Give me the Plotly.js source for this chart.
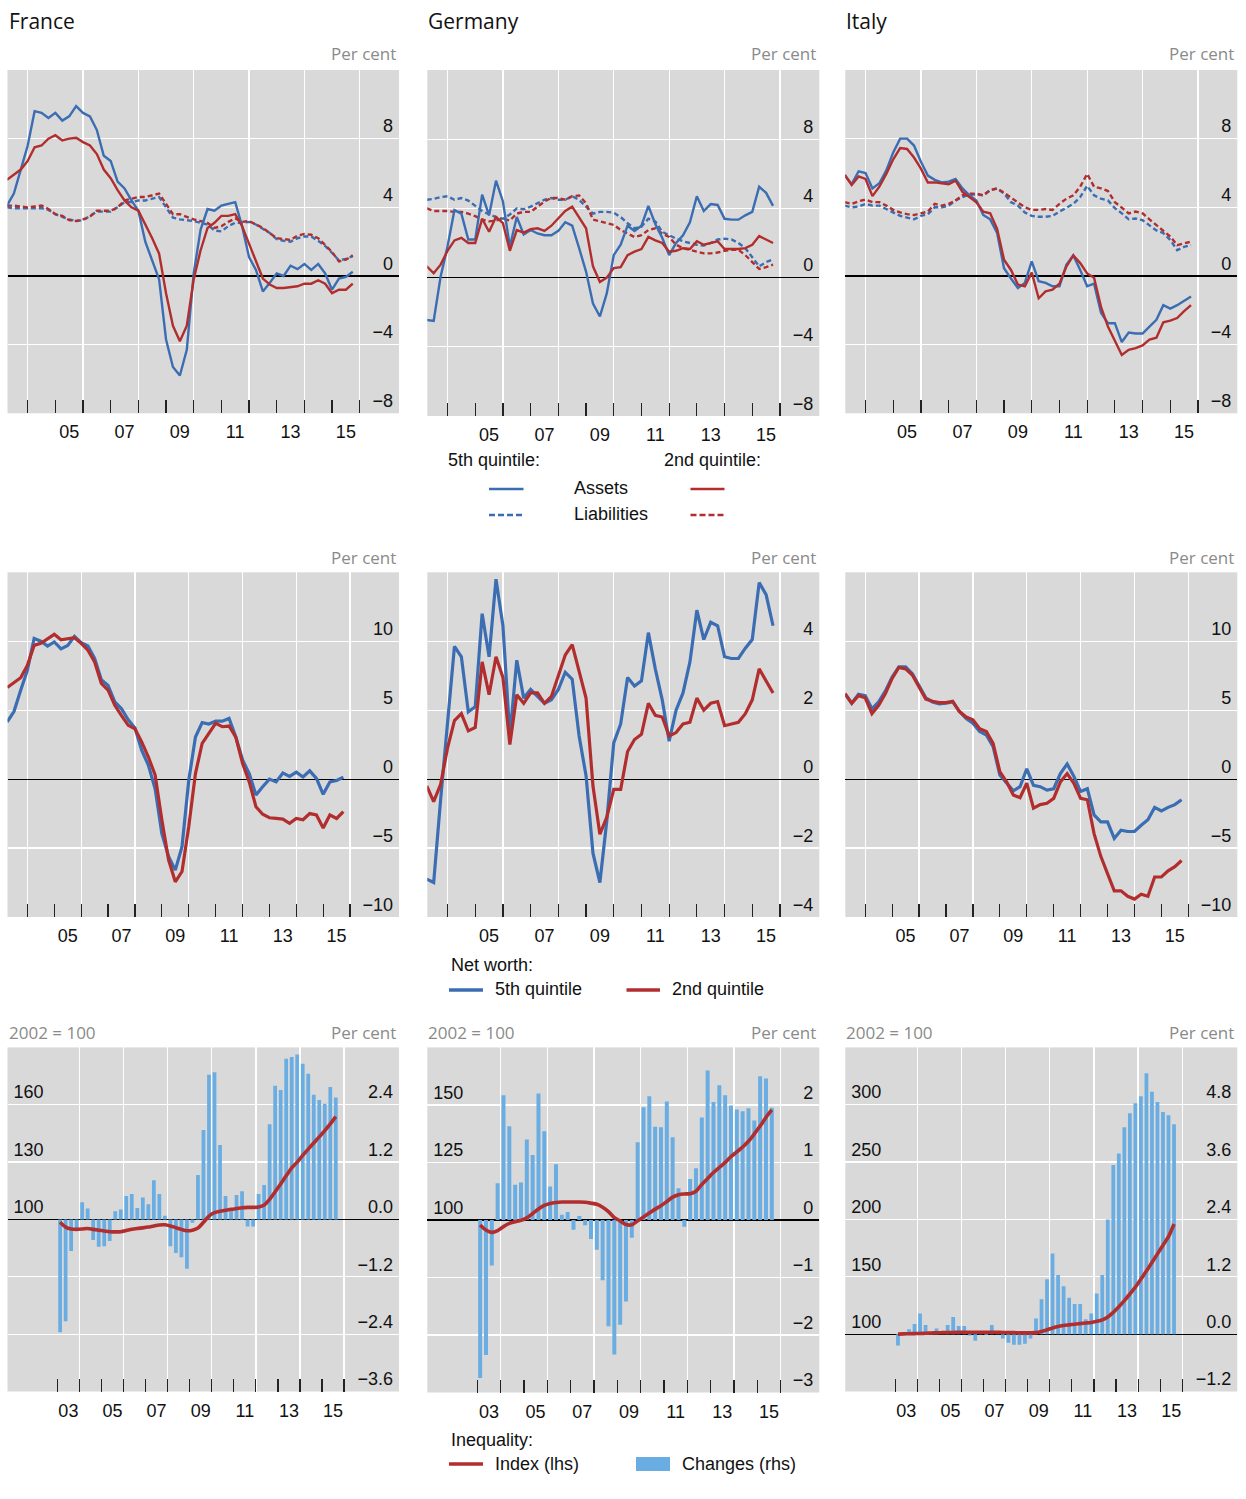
<!DOCTYPE html>
<html><head><meta charset="utf-8">
<script src="https://cdn.plot.ly/plotly-3.0.1.min.js"></script>
<style>html,body{margin:0;padding:0;background:#fff}#chart{width:1246px;height:1499px}</style>
</head><body><div id="chart"></div>
<script>
// ---------------- DATA ----------------
const countries = ['France', 'Germany', 'Italy'];
// quarterly observations for the top two rows
const quartersA = ('2003Q2 2003Q3 2003Q4 2004Q1 2004Q2 2004Q3 2004Q4 2005Q1 2005Q2 2005Q3 2005Q4 ' +
  '2006Q1 2006Q2 2006Q3 2006Q4 2007Q1 2007Q2 2007Q3 2007Q4 2008Q1 2008Q2 2008Q3 2008Q4 ' +
  '2009Q1 2009Q2 2009Q3 2009Q4 2010Q1 2010Q2 2010Q3 2010Q4 2011Q1 2011Q2 2011Q3 2011Q4 ' +
  '2012Q1 2012Q2 2012Q3 2012Q4 2013Q1 2013Q2 2013Q3 2013Q4 2014Q1 2014Q2 2014Q3 2014Q4 ' +
  '2015Q1 2015Q2 2015Q3 2015Q4').split(' ');
// quarterly observations for the inequality row
const quartersB = ('2003Q1 2003Q2 2003Q3 2003Q4 2004Q1 2004Q2 2004Q3 2004Q4 2005Q1 2005Q2 2005Q3 2005Q4 ' +
  '2006Q1 2006Q2 2006Q3 2006Q4 2007Q1 2007Q2 2007Q3 2007Q4 2008Q1 2008Q2 2008Q3 2008Q4 ' +
  '2009Q1 2009Q2 2009Q3 2009Q4 2010Q1 2010Q2 2010Q3 2010Q4 2011Q1 2011Q2 2011Q3 2011Q4 ' +
  '2012Q1 2012Q2 2012Q3 2012Q4 2013Q1 2013Q2 2013Q3 2013Q4 2014Q1 2014Q2 2014Q3 2014Q4 ' +
  '2015Q1 2015Q2 2015Q3').split(' ');

// Row 1: assets / liabilities growth, per cent
const frAssets5 = [4.1,4.8,6.2,7.6,9.6,9.5,9.2,9.5,9.05,9.3,9.9,9.5,9.3,8.5,7.0,6.7,5.5,5.1,4.4,3.8,2.0,0.9,-0.2,-3.7,-5.3,-5.8,-4.3,0.15,2.7,3.9,3.8,4.1,4.2,4.3,2.9,1.1,0.35,-0.9,-0.4,0.15,0,0.6,0.4,0.7,0.35,0.7,0.15,-0.8,-0.15,-0.05,0.25];
const frAssets2 = [5.6,5.9,6.2,6.7,7.5,7.6,8.0,8.2,7.9,8.0,8.05,7.8,7.6,7.1,6.2,5.7,5.0,4.4,4.0,3.8,3.0,2.2,1.3,-1.0,-2.9,-3.8,-2.9,-0.2,1.5,2.8,3.1,3.5,3.5,3.6,2.9,1.9,0.9,-0.15,-0.5,-0.7,-0.7,-0.65,-0.6,-0.45,-0.45,-0.25,-0.45,-1.0,-0.8,-0.8,-0.45];
const frLiab5 = [4.0,3.95,3.95,3.95,3.95,3.95,3.85,3.6,3.45,3.3,3.2,3.25,3.5,3.75,3.75,3.75,4.0,4.3,4.3,4.4,4.4,4.5,4.6,4.0,3.4,3.3,3.25,3.2,3.1,3.0,2.65,2.6,2.9,3.1,3.1,3.15,3.0,2.75,2.5,2.15,2.05,2.0,2.2,2.3,2.3,2.05,1.75,1.35,0.9,1.0,1.15];
const frLiab2 = [4.1,4.1,4.05,4.0,4.05,4.1,3.9,3.6,3.5,3.25,3.2,3.3,3.45,3.8,3.8,3.8,4.0,4.4,4.5,4.6,4.6,4.7,4.8,4.2,3.6,3.6,3.45,3.3,3.2,3.1,2.8,2.9,3.15,3.35,3.15,3.2,3.0,2.8,2.5,2.2,2.15,2.1,2.35,2.45,2.4,2.2,1.8,1.4,0.85,0.95,1.2];
const deAssets5 = [-2.45,-2.5,0.05,1.8,3.9,3.7,2.2,2.2,4.8,3.6,5.6,4.4,1.8,3.5,2.5,2.75,2.55,2.45,2.45,2.7,3.2,3.0,1.7,0.35,-1.5,-2.25,-0.9,1.3,1.9,3.0,2.7,3.0,4.15,3.1,2.3,1.3,2.0,2.45,3.2,4.7,3.85,4.25,4.2,3.4,3.35,3.35,3.6,3.8,5.25,4.9,4.15];
const deAssets2 = [0.65,0.25,0.75,1.55,2.15,2.3,2.0,2.0,3.4,2.65,3.5,3.15,1.55,2.75,2.6,2.8,2.85,2.7,3.0,3.4,3.85,4.1,3.5,2.85,0.65,-0.25,0.0,0.55,0.6,1.3,1.5,1.65,2.35,2.15,2.0,1.5,1.55,1.7,1.65,2.1,1.9,2.0,2.1,1.65,1.65,1.65,1.7,1.9,2.4,2.2,2.0];
const deLiab5 = [4.5,4.55,4.65,4.7,4.5,4.6,4.45,4.15,3.85,3.65,3.5,3.4,3.65,4.0,3.95,4.1,4.3,4.5,4.6,4.5,4.5,4.7,4.5,4.1,3.7,3.8,3.8,3.75,3.5,3.15,2.85,2.95,3.4,3.25,2.65,2.45,2.25,2.1,2.0,1.9,1.85,2.0,2.2,2.25,2.2,2.0,1.7,1.2,0.65,0.9,1.05];
const deLiab2 = [4.0,3.85,3.85,3.85,3.8,3.8,3.7,3.55,3.35,3.25,3.3,3.4,3.3,3.7,3.8,3.8,4.1,4.4,4.6,4.6,4.5,4.7,4.75,4.3,3.35,3.25,3.15,3.05,2.75,2.55,2.35,2.45,2.75,2.85,2.55,2.35,1.9,1.7,1.6,1.5,1.4,1.4,1.45,1.55,1.6,1.6,1.3,0.9,0.5,0.6,0.75];
const itAssets5 = [5.85,5.35,6.1,6.0,5.1,5.4,6.15,7.2,8.0,8.0,7.6,6.65,5.85,5.6,5.45,5.5,5.65,5.1,4.7,4.4,3.55,3.3,2.5,0.45,-0.15,-0.7,-0.4,0.85,-0.3,-0.4,-0.6,-0.6,0.65,1.2,0.35,-0.6,-0.45,-2.15,-2.75,-2.75,-3.85,-3.3,-3.35,-3.35,-2.95,-2.55,-1.7,-1.9,-1.7,-1.45,-1.2];
const itAssets2 = [5.9,5.3,5.8,5.65,4.65,5.2,5.95,6.8,7.45,7.4,6.9,6.25,5.45,5.45,5.4,5.35,5.55,4.9,4.6,4.3,3.75,3.65,2.75,0.95,0.35,-0.5,-0.6,0.2,-1.3,-0.9,-0.8,-0.45,0.55,1.2,0.75,0.15,-0.1,-1.8,-2.95,-3.8,-4.6,-4.3,-4.2,-4.05,-3.7,-3.6,-2.7,-2.6,-2.45,-2.05,-1.7];
const itLiab5 = [4.1,4.0,4.05,4.2,4.1,4.1,3.9,3.7,3.5,3.4,3.3,3.5,3.6,4.0,4.0,4.1,4.4,4.6,4.75,4.75,4.7,5.0,5.1,4.8,4.3,4.1,3.7,3.5,3.45,3.45,3.5,3.75,4.0,4.2,4.6,5.25,4.7,4.5,4.4,3.95,3.65,3.3,3.35,3.25,2.95,2.65,2.5,2.1,1.5,1.7,1.8];
const itLiab2 = [4.3,4.2,4.35,4.45,4.3,4.3,4.1,3.85,3.7,3.6,3.55,3.65,3.75,4.2,4.1,4.2,4.4,4.7,4.8,4.8,4.7,5.0,5.1,4.85,4.55,4.3,4.0,3.85,3.85,3.9,3.85,4.2,4.5,4.7,5.2,5.95,5.2,5.1,4.95,4.3,3.95,3.65,3.75,3.65,3.3,2.95,2.65,2.3,1.8,1.9,2.0];

// Row 2: net worth growth, per cent
const frNW5 = [4.15,4.9,6.45,7.9,10.2,10.0,9.65,9.95,9.45,9.7,10.35,9.9,9.65,8.75,7.2,6.8,5.6,5.1,4.3,3.7,2.1,1.0,-0.7,-3.95,-5.6,-6.6,-4.9,-0.1,3.05,4.1,4.0,4.2,4.2,4.4,3.05,1.4,0.4,-1.15,-0.55,0.0,-0.2,0.45,0.2,0.5,0.15,0.6,0.05,-1.1,-0.2,-0.1,0.15];
const frNW2 = [6.65,7.0,7.35,8.25,9.7,9.85,10.2,10.5,10.1,10.2,10.25,9.85,9.35,8.5,6.95,6.45,5.35,4.6,3.9,3.65,2.7,1.6,0.3,-2.95,-5.85,-7.45,-6.7,-3.45,0.4,2.6,3.35,4.05,3.8,3.85,3.05,1.15,-0.2,-2.0,-2.55,-2.8,-2.85,-2.9,-3.2,-2.85,-2.95,-2.5,-2.6,-3.55,-2.6,-2.85,-2.35];
const deNW5 = [-2.9,-3.0,-0.6,1.7,3.85,3.55,1.95,2.1,4.8,3.55,5.8,4.45,1.25,3.45,2.35,2.6,2.4,2.2,2.3,2.6,3.1,2.9,1.25,0.1,-2.15,-3.0,-1.2,1.05,1.6,2.95,2.7,2.85,4.25,3.2,2.3,1.1,2.0,2.5,3.4,4.9,4.05,4.55,4.45,3.55,3.5,3.5,3.8,4.05,5.7,5.35,4.45];
const deNW2 = [-0.2,-0.65,-0.15,0.9,1.7,1.9,1.4,1.5,3.4,2.45,3.55,2.95,1.0,2.45,2.2,2.5,2.5,2.2,2.4,3.0,3.6,3.9,3.15,2.35,-0.2,-1.6,-1.1,-0.3,-0.3,0.8,1.15,1.3,2.2,1.85,1.8,1.25,1.35,1.6,1.65,2.35,2.0,2.2,2.25,1.55,1.6,1.65,1.9,2.3,3.2,2.85,2.5];
const itNW5 = [6.2,5.5,6.15,6.05,5.1,5.6,6.4,7.4,8.15,8.15,7.65,6.8,5.9,5.6,5.45,5.5,5.6,4.9,4.4,4.05,3.45,3.2,2.35,0.3,-0.25,-0.85,-0.55,0.75,-0.45,-0.55,-0.8,-0.7,0.4,1.1,0.2,-0.9,-0.7,-2.6,-3.1,-3.1,-4.3,-3.7,-3.8,-3.8,-3.35,-2.95,-2.05,-2.3,-2.05,-1.85,-1.5];
const itNW2 = [6.2,5.5,6.05,5.9,4.75,5.35,6.2,7.3,8.1,8.0,7.55,6.7,5.8,5.65,5.55,5.55,5.65,4.9,4.5,4.3,3.65,3.45,2.6,0.55,-0.2,-1.15,-1.35,-0.3,-2.1,-1.85,-1.75,-1.4,-0.2,0.4,-0.3,-1.4,-1.5,-3.95,-5.6,-6.85,-8.1,-8.1,-8.5,-8.7,-8.35,-8.5,-7.1,-7.1,-6.65,-6.35,-5.9];

// Row 3: inequality index (2002 = 100, lhs) and changes (per cent, rhs)
const frIndex = [98.5,96.0,95.0,94.8,95.0,95.3,94.8,94.4,94.0,93.6,93.5,93.6,94.2,94.9,95.3,95.6,96.0,96.6,97.1,97.2,96.6,95.7,94.8,94.1,94.4,95.5,98.5,101.8,103.6,104.3,104.8,105.3,105.7,106.1,106.3,106.3,106.5,107.5,110.5,114.5,118.5,122.8,127.0,130.0,133.5,136.8,140.0,143.2,146.5,150.0,153.8];
const frChange = [-2.36,-2.13,-0.66,-0.22,0.36,0.23,-0.43,-0.57,-0.56,-0.45,0.17,0.21,0.49,0.53,0.24,0.46,0.32,0.82,0.53,0.08,-0.56,-0.70,-0.79,-1.03,-0.07,0.93,1.87,3.03,3.08,1.56,0.49,0.20,0.51,0.59,-0.15,-0.15,0.53,0.72,1.99,2.80,2.71,3.36,3.40,3.45,3.26,3.05,2.61,2.50,2.42,2.77,2.55];
const deIndex = [97.8,95.6,94.6,95.4,97.1,98.5,99.2,99.8,100.9,102.8,104.8,106.3,107.2,107.6,107.8,107.8,107.8,107.8,107.7,107.3,106.8,105.5,103.6,101.0,99.6,98.0,97.9,99.6,101.3,103.0,104.7,106.2,108.0,109.9,111.0,111.3,111.4,112.5,115.4,118.0,120.6,122.8,125.0,127.5,129.6,131.7,134.2,137.4,140.8,144.6,147.8];
const deChange = [-2.75,-2.35,-0.79,0.64,2.17,1.63,0.61,0.65,1.40,1.13,2.20,1.54,0.58,0.97,0.09,0.14,-0.17,0.07,-0.09,-0.33,-0.52,-1.05,-1.85,-2.34,-1.82,-1.42,-0.31,1.35,1.96,2.15,1.62,1.61,2.06,1.44,0.55,-0.12,0.71,0.90,1.78,2.60,2.05,2.34,2.17,1.99,1.92,1.89,1.94,1.73,2.50,2.46,1.95];
const itIndex = [100.0,100.2,100.4,100.5,100.6,100.8,101.0,101.2,101.3,101.4,101.5,101.6,101.7,101.7,101.7,101.7,101.7,101.7,101.6,101.5,101.4,101.3,101.2,101.1,101.1,101.3,102.3,103.8,105.4,106.7,107.5,108.1,108.7,109.2,109.7,110.2,111.2,112.5,115.0,119.0,123.8,129.2,135.0,141.0,148.0,155.0,162.5,170.0,177.5,185.0,196.0];
const itChange = [-0.24,0.0,0.10,0.21,0.43,0.19,0.05,0.12,0.0,0.19,0.36,0.17,0.17,-0.03,-0.14,0.05,-0.02,0.19,0.05,-0.09,-0.18,-0.22,-0.22,-0.20,-0.09,0.33,0.73,1.15,1.69,1.24,1.00,0.76,0.63,0.63,0.31,0.43,0.85,1.24,2.40,3.54,3.78,4.33,4.62,4.83,4.98,5.46,5.07,4.86,4.65,4.58,4.39];

// Axis tick values / labels
const gridYears = [2004, 2006, 2008, 2010, 2012, 2014, 2016];
const labelYearsTop = [2005.5, 2007.5, 2009.5, 2011.5, 2013.5, 2015.5];
const yearLabelsTop = ['05', '07', '09', '11', '13', '15'];
const labelYearsBottom = [2003.5, 2005.5, 2007.5, 2009.5, 2011.5, 2013.5, 2015.5];
const yearLabelsBottom = ['03', '05', '07', '09', '11', '13', '15'];
const minorYearsTop = [2005, 2007, 2009, 2011, 2013, 2015];
const minorYearsBottom = [2003, 2005, 2007, 2009, 2011, 2013, 2015];
const row1Ticks = [-8, -4, 0, 4, 8];
const row2Ticks = { France: [-10, -5, 0, 5, 10], Germany: [-4, -2, 0, 2, 4], Italy: [-10, -5, 0, 5, 10] };
const row3RhsTicks = { France: [-3.6, -2.4, -1.2, 0, 1.2, 2.4], Germany: [-3, -2, -1, 0, 1, 2], Italy: [-1.2, 0, 1.2, 2.4, 3.6, 4.8] };
const row3LhsTicks = { France: [100, 130, 160], Germany: [100, 125, 150], Italy: [100, 150, 200, 250, 300] };

// ---------------- LAYOUT / STYLE ----------------
const W = 1246, H = 1499;
const PX = x => x / W, PY = y => 1 - y / H;
const BLUE = '#3b6db3', RED = '#b22e2e', BAR = '#69ade2', BG = '#d9d9d9', GREY = '#8a8a8a';
const DASH = '5px,3px';
const TICKFONT = { family: 'Liberation Sans, Arial, sans-serif', size: 18, color: '#111' };
const LEGFONT = { family: 'Liberation Sans, Arial, sans-serif', size: 18, color: '#111' };
const HEADFONT = { family: 'Open Sans, Noto Sans, sans-serif', size: 21, color: '#111' };
const UNITFONT = { family: 'Open Sans, Noto Sans, sans-serif', size: 17, color: GREY };

const toYear = q => +q.slice(0, 4) + (+q[5] - 1) / 4;
const xA = quartersA.map(toYear);
const xB = quartersB.map(q => toYear(q) + 0.125);

const colsX = [[7.5, 399], [427.3, 819.3], [845.3, 1237.3]];
const rowsY = [
  [[70, 413.3], [70, 416], [70, 413.3]],
  [[572.3, 917], [572.3, 917], [572.3, 917]],
  [[1047.4, 1391.5], [1047.4, 1392.5], [1047.4, 1391.5]]
];
const xRanges = [
  [[2003.27, 2017.42], [2003.27, 2017.42], [2003.27, 2017.42]],
  [[2003.26, 2017.82], [2003.27, 2017.42], [2003.26, 2017.82]],
  [[2000.74, 2018.49], [2000.86, 2017.66], [2000.74, 2018.49]]
];
const yRanges = [
  { France: [-8, 12], Germany: [-8, 12], Italy: [-8, 12] },
  { France: [-10, 15], Germany: [-4, 6], Italy: [-10, 15] },
  { France: [-3.6, 3.6], Germany: [-3, 3], Italy: [-1.2, 6] }
];
const lhsRanges = { France: [10, 190], Germany: [25, 175], Italy: [50, 350] };

const layout = {
  width: W, height: H, margin: { l: 0, r: 0, t: 0, b: 0 },
  paper_bgcolor: '#fff', plot_bgcolor: BG, showlegend: false,
  annotations: [], shapes: []
};
const traces = [];

// main x axis: white gridlines every two years + black tick marks every year (no labels)
function xAxisDef(row, col, anchorY) {
  const dom = colsX[col];
  return {
    domain: [PX(dom[0]), PX(dom[1])], range: xRanges[row][col], anchor: anchorY,
    tickmode: 'array', tickvals: gridYears, showticklabels: false,
    ticks: 'inside', ticklen: 13, tickwidth: 1.2, tickcolor: '#222',
    showgrid: true, gridcolor: '#fff', gridwidth: 1.3, zeroline: false, showline: false,
    fixedrange: true,
    minor: { tickmode: 'array', tickvals: row === 2 ? minorYearsBottom : minorYearsTop, ticks: 'inside', ticklen: 13, tickwidth: 1.2, tickcolor: '#222', showgrid: false }
  };
}
// overlay x axis carrying the year labels centred on each labelled year
function xLabelAxisDef(row, col, mainId, anchorY) {
  return {
    overlaying: mainId, anchor: anchorY, side: 'bottom', range: xRanges[row][col],
    tickmode: 'array', tickvals: row === 2 ? labelYearsBottom : labelYearsTop,
    ticktext: row === 2 ? yearLabelsBottom : yearLabelsTop,
    ticks: '', ticklabelstandoff: 6, showgrid: false, zeroline: false, showline: false,
    tickfont: TICKFONT, fixedrange: true
  };
}
function yAxisDef(row, col, anchorX, vals, fmt) {
  const dom = rowsY[row][col];
  return {
    domain: [PY(dom[1]), PY(dom[0])], range: yRanges[row][countries[col]], anchor: anchorX, side: 'right',
    tickmode: 'array', tickvals: vals, tickformat: fmt || '',
    ticks: '', ticklabelposition: 'inside top', ticklabelstandoff: 3,
    showgrid: true, gridcolor: '#fff', gridwidth: 1.3,
    zeroline: true, zerolinecolor: '#000', zerolinewidth: 1.2, showline: false,
    tickfont: TICKFONT, fixedrange: true
  };
}
function ann(text, xpx, ypx, xanchor, font) {
  layout.annotations.push({ text, x: PX(xpx), y: PY(ypx), xref: 'paper', yref: 'paper',
    xanchor, yanchor: 'middle', showarrow: false, font });
}
function legLine(x0, x1, y, color, width, dash) {
  layout.shapes.push({ type: 'line', xref: 'paper', yref: 'paper', x0: PX(x0), x1: PX(x1), y0: PY(y), y1: PY(y),
    line: { color, width, dash: dash || 'solid' } });
}

const row1Data = {
  France: [frLiab5, frLiab2, frAssets5, frAssets2],
  Germany: [deLiab5, deLiab2, deAssets5, deAssets2],
  Italy: [itLiab5, itLiab2, itAssets5, itAssets2]
};
const row2Data = { France: [frNW5, frNW2], Germany: [deNW5, deNW2], Italy: [itNW5, itNW2] };
const row3Data = { France: [frChange, frIndex], Germany: [deChange, deIndex], Italy: [itChange, itIndex] };

let n = 0;
for (let row = 0; row < 3; row++) {
  for (let col = 0; col < 3; col++) {
    n++;
    const c = countries[col];
    const xid = n === 1 ? 'x' : 'x' + n, yid = n === 1 ? 'y' : 'y' + n;
    const xKey = n === 1 ? 'xaxis' : 'xaxis' + n, yKey = n === 1 ? 'yaxis' : 'yaxis' + n;
    layout[xKey] = xAxisDef(row, col, yid);
    const labId = 'x' + (n + 9);
    layout['xaxis' + (n + 9)] = xLabelAxisDef(row, col, xid, yid);
    traces.push({ x: [], y: [], xaxis: labId, yaxis: yid, mode: 'lines', hoverinfo: 'skip' });
    if (row === 0) {
      layout[yKey] = yAxisDef(row, col, xid, row1Ticks);
      const [l5, l2, a5, a2] = row1Data[c];
      traces.push({ x: xA, y: l5, xaxis: xid, yaxis: yid, mode: 'lines', line: { color: BLUE, width: 2.4, dash: DASH }, hoverinfo: 'skip' });
      traces.push({ x: xA, y: l2, xaxis: xid, yaxis: yid, mode: 'lines', line: { color: RED, width: 2.4, dash: DASH }, hoverinfo: 'skip' });
      traces.push({ x: xA, y: a5, xaxis: xid, yaxis: yid, mode: 'lines', line: { color: BLUE, width: 2.4 }, hoverinfo: 'skip' });
      traces.push({ x: xA, y: a2, xaxis: xid, yaxis: yid, mode: 'lines', line: { color: RED, width: 2.4 }, hoverinfo: 'skip' });
    } else if (row === 1) {
      layout[yKey] = yAxisDef(row, col, xid, row2Ticks[c]);
      const [n5, n2] = row2Data[c];
      traces.push({ x: xA, y: n5, xaxis: xid, yaxis: yid, mode: 'lines', line: { color: BLUE, width: 3.2 }, hoverinfo: 'skip' });
      traces.push({ x: xA, y: n2, xaxis: xid, yaxis: yid, mode: 'lines', line: { color: RED, width: 3.2 }, hoverinfo: 'skip' });
    } else {
      layout[yKey] = yAxisDef(row, col, xid, row3RhsTicks[c], c === 'Germany' ? '' : '.1f');
      const lid = 'y' + (n + 3);
      layout['yaxis' + (n + 3)] = {
        overlaying: yid, anchor: xid, side: 'left', range: lhsRanges[c],
        tickmode: 'array', tickvals: row3LhsTicks[c], ticks: '', ticklabelposition: 'inside top', ticklabelstandoff: 3,
        showgrid: false, zeroline: false, showline: false, tickfont: TICKFONT, fixedrange: true
      };
      const [chg, idx] = row3Data[c];
      traces.push({ type: 'bar', x: xB, y: chg, xaxis: xid, yaxis: yid, width: 0.17, marker: { color: BAR, line: { width: 0 } }, hoverinfo: 'skip' });
      traces.push({ x: xB, y: idx, xaxis: xid, yaxis: lid, mode: 'lines', line: { color: RED, width: 3.6, shape: 'spline', smoothing: 0.8 }, hoverinfo: 'skip' });
    }
  }
}

// Headings and units
const unitY = [54, 557, 1032];
countries.forEach((c, i) => {
  ann(c, colsX[i][0] - 1, 21, 'left', HEADFONT);
  unitY.forEach(y => ann('Per cent', colsX[i][1] - 1, y, 'right', UNITFONT));
  ann('2002 = 100', colsX[i][0] - 1, 1032, 'left', UNITFONT);
});

// Legend row 1
ann('5th quintile:', 446, 460, 'left', LEGFONT);
ann('2nd quintile:', 662, 460, 'left', LEGFONT);
ann('Assets', 572, 488, 'left', LEGFONT);
ann('Liabilities', 572, 514, 'left', LEGFONT);
legLine(489, 523.5, 489, BLUE, 2.5);
legLine(690.5, 724.5, 489, RED, 2.5);
legLine(489, 523.5, 515, BLUE, 2.5, '6px,3px');
legLine(690.5, 724.5, 515, RED, 2.5, '6px,3px');
// Legend row 2
ann('Net worth:', 449, 965, 'left', LEGFONT);
legLine(449, 483, 990, BLUE, 3.5);
ann('5th quintile', 493, 989, 'left', LEGFONT);
legLine(626.5, 660, 990, RED, 3.5);
ann('2nd quintile', 670, 989, 'left', LEGFONT);
// Legend row 3
ann('Inequality:', 449, 1440, 'left', LEGFONT);
legLine(449, 483, 1464, RED, 3.5);
ann('Index (lhs)', 493, 1464, 'left', LEGFONT);
layout.shapes.push({ type: 'rect', xref: 'paper', yref: 'paper', x0: PX(636), x1: PX(670), y0: PY(1471), y1: PY(1457),
  fillcolor: BAR, line: { width: 0 } });
ann('Changes (rhs)', 680, 1464, 'left', LEGFONT);

Plotly.newPlot('chart', traces, layout, { staticPlot: true, displayModeBar: false });
</script>
</body></html>
